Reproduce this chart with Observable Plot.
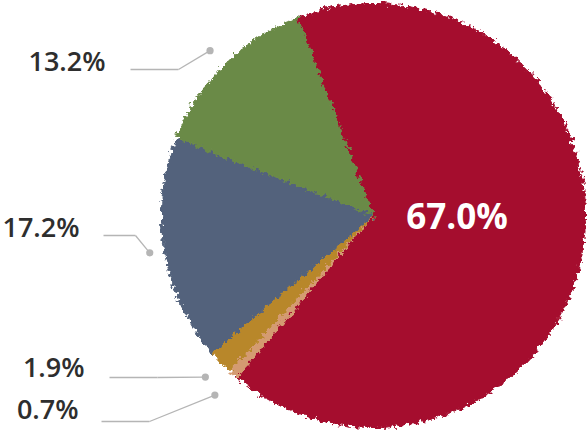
<!DOCTYPE html>
<html><head><meta charset="utf-8">
<script src="https://cdn.jsdelivr.net/npm/d3@7"></script>
<script src="https://cdn.jsdelivr.net/npm/@observablehq/plot@0.6"></script>
<style>body{margin:0;background:#fff}#chart{width:588px;height:437px}</style>
</head><body><div id="chart"></div>
<script>
// ---- data ----
const categories = ["Red", "Tan", "Gold", "Blue", "Green"];
const values = [67.0, 0.7, 1.9, 17.2, 13.2];
const valueLabels = ["67.0%", "0.7%", "1.9%", "17.2%", "13.2%"];
const colors = ["#a50f2f", "#d49b71", "#b8872a", "#52627c", "#6b8a47"];

// ---- layout ----
const W = 588, H = 437, CX = 373, CY = 215, R = 212;
const startDeg = -21;
const rad = Math.PI / 180;
const toData = (X, Y) => ({x: (X - CX) / R, y: (CY - Y) / R});

const total = d3.sum(values);
let acc = 0;
const slices = values.map((v, i) => {
  const a0 = startDeg + acc / total * 360; acc += v;
  const a1 = startDeg + acc / total * 360;
  return {i, name: categories[i], a0, a1, mid: (a0 + a1) / 2};
});
const slicePts = slices.map(s => {
  const n = Math.max(2, Math.ceil(s.a1 - s.a0));
  const pts = [{x: 0, y: 0}];
  for (let k = 0; k <= n; k++) {
    const a = (s.a0 + (s.a1 - s.a0) * k / n) * rad;
    pts.push({x: Math.sin(a), y: Math.cos(a)});
  }
  pts.push({x: 0, y: 0});
  return pts;
});

// outer label annotation rows (pixel layout of the text column)
const labelRows = [
  {i: 4, textRight: 105, textY: 62, lineY: 69, x0: 130, elbow: 178, r: 1.095},
  {i: 3, textRight: 79, textY: 228, lineY: 235, x0: 103, elbow: 135, r: 1.07},
  {i: 2, textRight: 84, textY: 368, lineY: 377, x0: 109, elbow: 157, r: 1.10},
  {i: 1, textRight: 78, textY: 410, lineY: 421, x0: 101, elbow: 149, r: 1.13}
];
const dots = labelRows.map(l => {
  const a = slices[l.i].mid * rad;
  return {x: l.r * Math.sin(a), y: l.r * Math.cos(a)};
});
const segs = labelRows.flatMap((l, k) => {
  const p0 = toData(l.x0, l.lineY), p1 = toData(l.elbow, l.lineY);
  return [{x1: p0.x, y1: p0.y, x2: p1.x, y2: p1.y}, {x1: p1.x, y1: p1.y, x2: dots[k].x, y2: dots[k].y}];
});
const outerText = labelRows.map(l => ({...toData(l.textRight, l.textY), t: valueLabels[l.i]}));
const redMid = slices[0].mid * rad;
const innerText = [{x: 0.4 * Math.sin(redMid), y: 0.4 * Math.cos(redMid), t: valueLabels[0]}];

const plot = Plot.plot({
  width: W, height: H,
  marginLeft: CX - R, marginRight: W - CX - R, marginTop: CY - R, marginBottom: H - CY - R,
  x: {domain: [-1, 1], axis: null},
  y: {domain: [-1, 1], axis: null},
  style: {background: "#fff", fontFamily: "'Open Sans', sans-serif"},
  marks: [
    ...slices.map(s => Plot.line(slicePts[s.i], {x: "x", y: "y", fill: colors[s.i], stroke: colors[s.i], strokeWidth: 1, curve: "linear"})),
    Plot.link(segs, {x1: "x1", y1: "y1", x2: "x2", y2: "y2", stroke: "#b5b5b5", strokeWidth: 1.3}),
    Plot.dot(dots, {x: "x", y: "y", r: 3.6, fill: "#b5b5b5", stroke: null}),
    Plot.text(outerText, {x: "x", y: "y", text: "t", textAnchor: "end", lineAnchor: "middle", fontSize: 27, fontWeight: 600, fill: "#2e2e2e"}),
    Plot.text(innerText, {x: "x", y: "y", text: "t", textAnchor: "middle", lineAnchor: "middle", dy: -12, fontSize: 35, fontWeight: "bold", fill: "#fff"})
  ]
});

const ns = "http://www.w3.org/2000/svg";
const defs = document.createElementNS(ns, "defs");
defs.innerHTML = `<filter id="rough" x="-10%" y="-10%" width="120%" height="120%">
  <feTurbulence type="fractalNoise" baseFrequency="0.22" numOctaves="3" seed="7" result="n"/>
  <feDisplacementMap in="SourceGraphic" in2="n" scale="10" xChannelSelector="R" yChannelSelector="G"/>
</filter>`;
plot.insertBefore(defs, plot.firstChild);
plot.querySelectorAll('g[aria-label="line"]').forEach(g => g.setAttribute("filter", "url(#rough)"));
document.getElementById("chart").appendChild(plot);
</script>
</body></html>
